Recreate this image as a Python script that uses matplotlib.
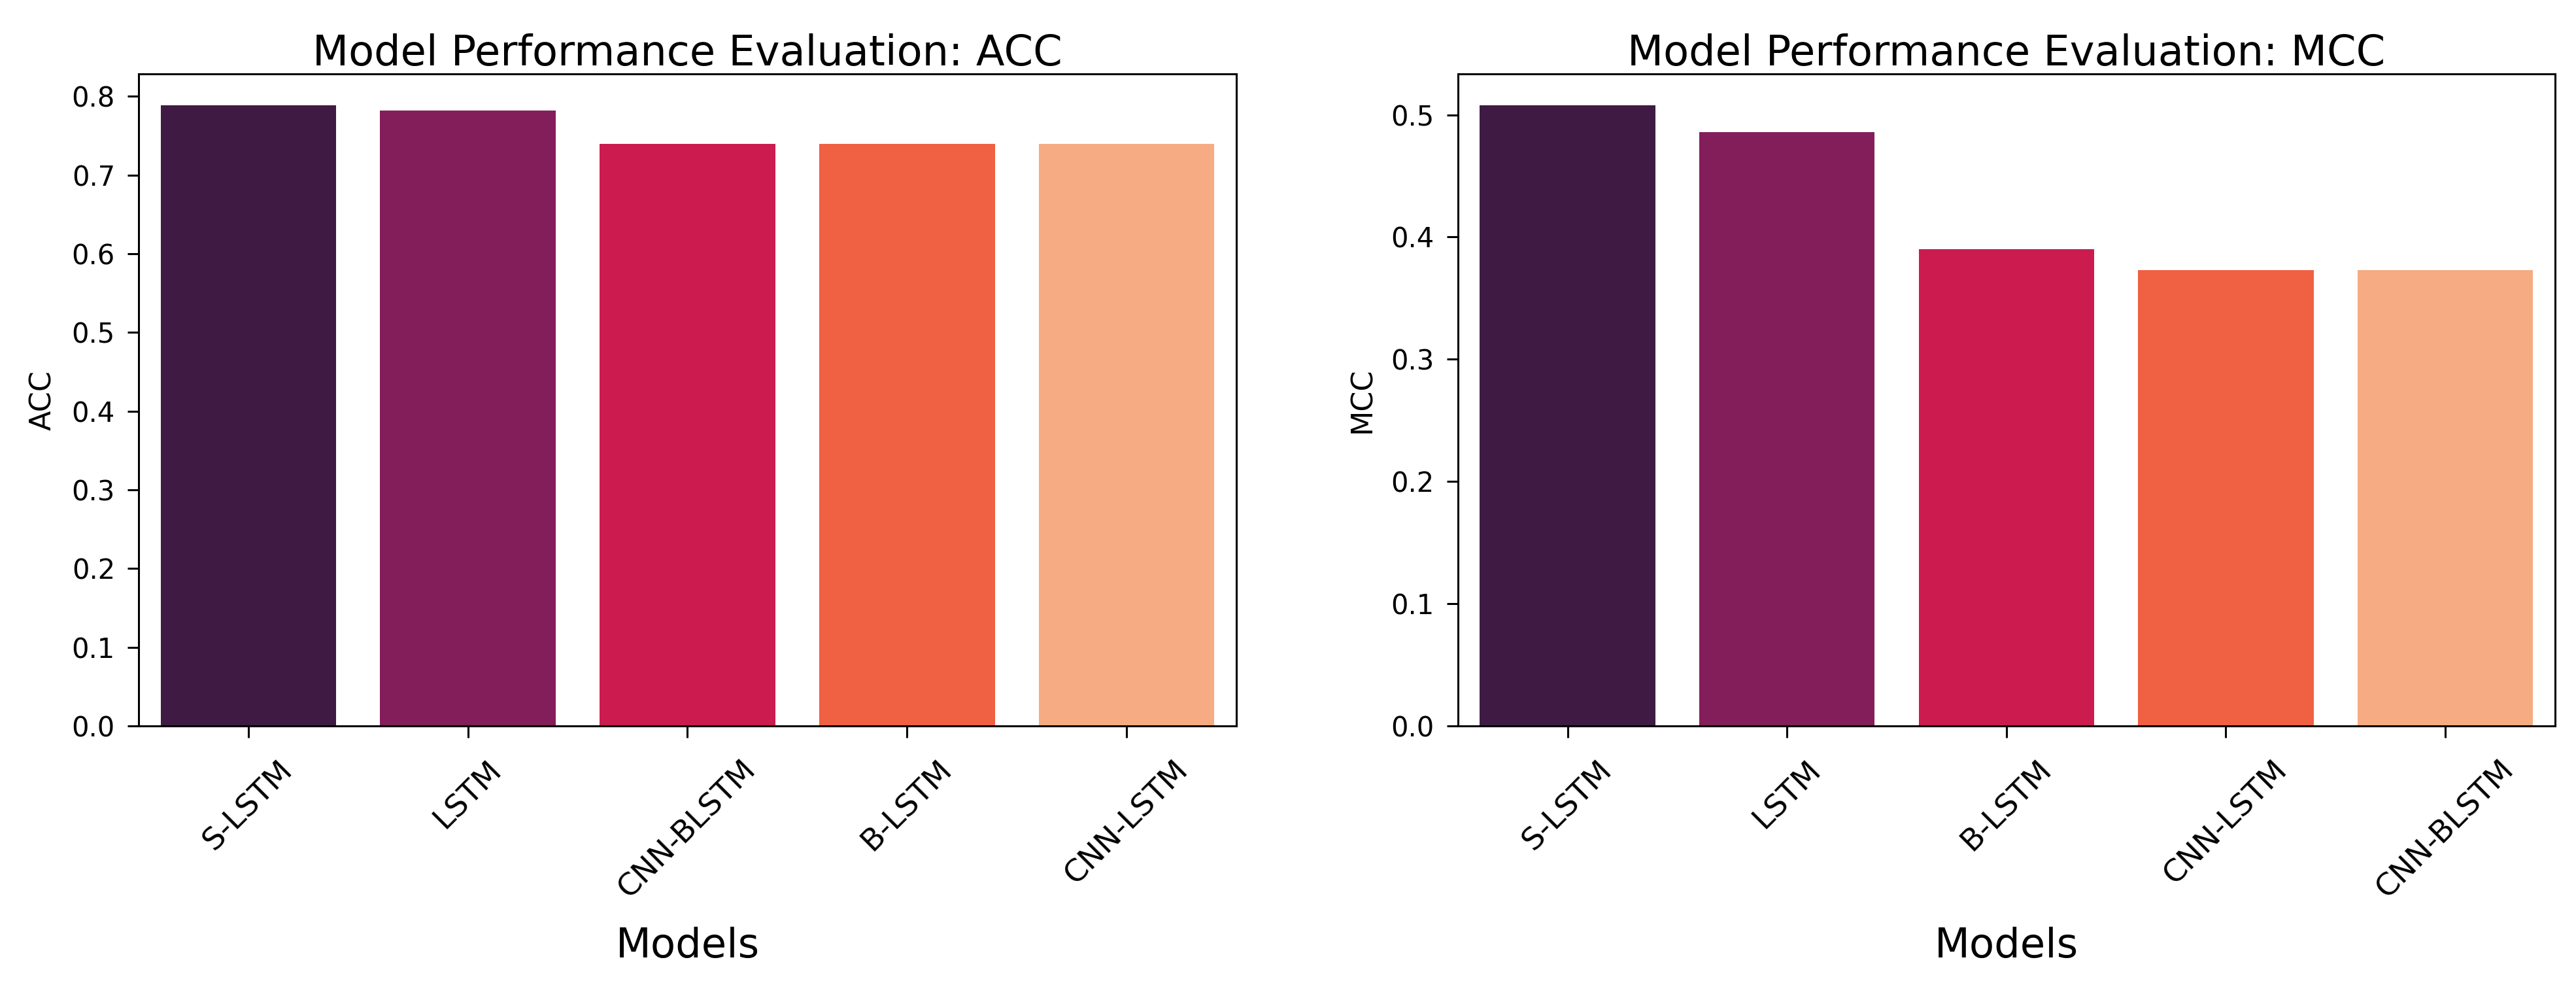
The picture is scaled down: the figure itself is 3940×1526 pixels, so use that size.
import matplotlib
matplotlib.use("Agg")
import matplotlib.pyplot as plt
import seaborn as sns
import numpy as np

acc_models = ["S-LSTM", "LSTM", "CNN-BLSTM", "B-LSTM", "CNN-LSTM"]
acc_values = [0.789, 0.782, 0.740, 0.740, 0.740]

mcc_models = ["S-LSTM", "LSTM", "B-LSTM", "CNN-LSTM", "CNN-BLSTM"]
mcc_values = [0.508, 0.486, 0.390, 0.373, 0.373]

plt.rcParams['font.family'] = ['DejaVu Sans']

fig = plt.figure(figsize=(39.41, 15.26), dpi=100)
ax1 = fig.add_axes([0.0538, 0.2726, 0.4260, 0.6533])
ax2 = fig.add_axes([0.5658, 0.2726, 0.4258, 0.6533])

for ax, models, vals, metric in [(ax1, acc_models, acc_values, "ACC"),
                                 (ax2, mcc_models, mcc_values, "MCC")]:
    sns.barplot(x=models, y=vals, hue=models, palette="rocket", legend=False,
                ax=ax, width=0.8, saturation=1)
    ax.set_xlim(-0.5, len(models) - 0.5)
    ax.set_title(f"Model Performance Evaluation: {metric}", fontsize=46, pad=8)
    ax.set_xlabel("Models", fontsize=45, labelpad=25)
    ax.set_ylabel(metric, fontsize=32, labelpad=16)
    ax.tick_params(axis='y', labelsize=30, length=12, width=2.2, pad=14)
    ax.tick_params(axis='x', labelsize=34, length=13, width=2.2, pad=19)
    plt.setp(ax.get_xticklabels(), rotation=45)
    for s in ax.spines.values():
        s.set_linewidth(2.2)

fig.savefig("out.png", dpi=100)
